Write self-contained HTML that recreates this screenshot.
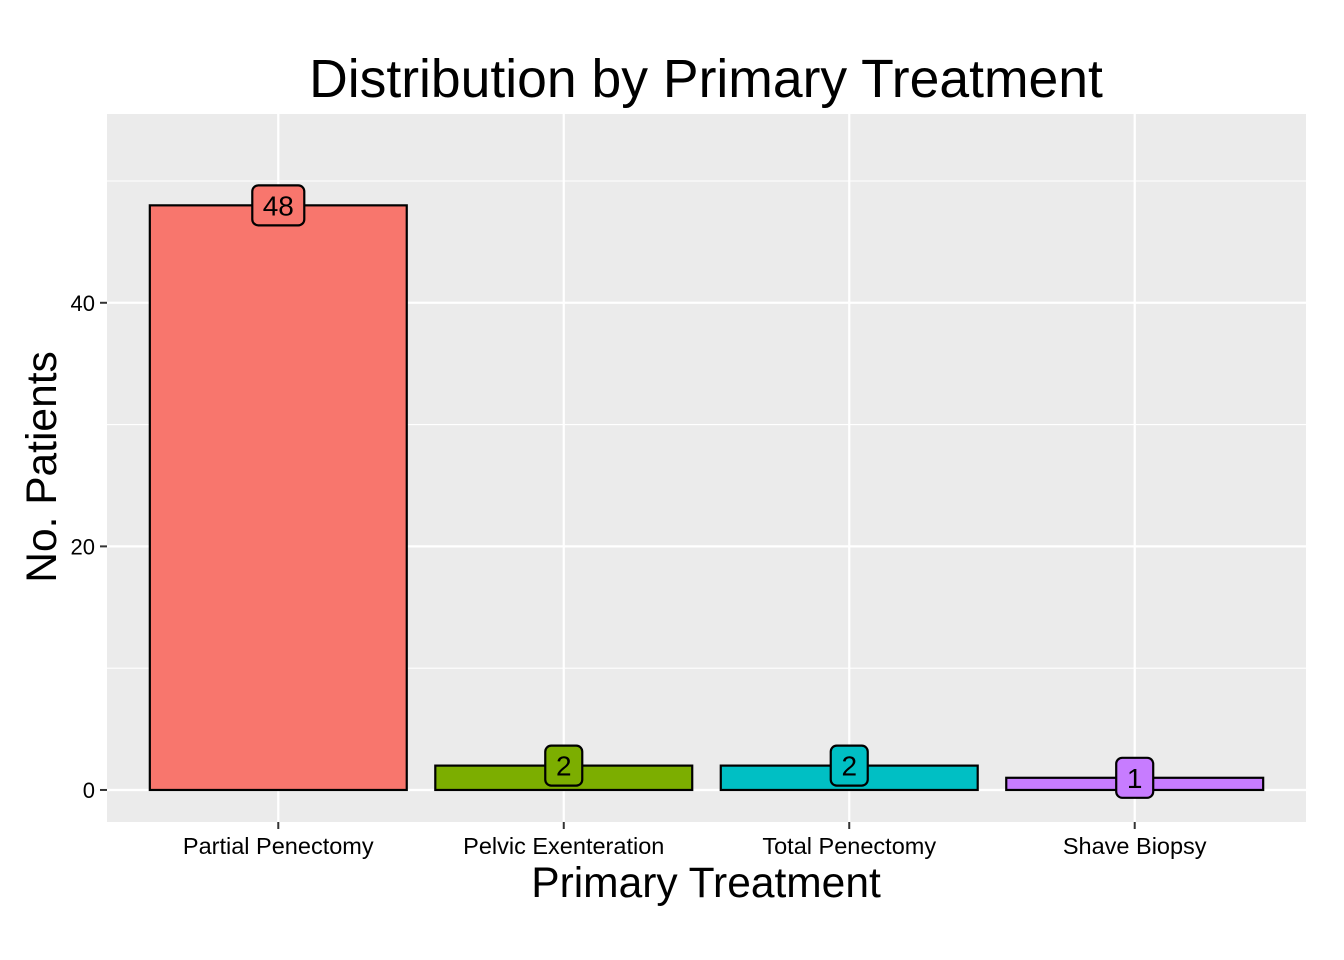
<!DOCTYPE html>
<html><head><meta charset="utf-8"><style>
html,body{margin:0;padding:0;background:#fff}
svg{display:block;font-family:"Liberation Sans",Arial,sans-serif}
</style></head><body>
<svg id="chart" width="1344" height="960" xmlns="http://www.w3.org/2000/svg">
<text x="706" y="97" text-anchor="middle" font-size="53.5" fill="#000">Distribution by Primary Treatment</text>
<rect x="107" y="114" width="1199" height="708" fill="#ebebeb"/>
<g id="grid"></g><g id="bars"></g><g id="axes"></g>
<text x="706" y="897" text-anchor="middle" font-size="42.5" fill="#000">Primary Treatment</text>
<text transform="translate(56,467) rotate(-90)" text-anchor="middle" font-size="42.5" fill="#000">No. Patients</text>
</svg>
<script>
const categories = ["Partial Penectomy","Pelvic Exenteration","Total Penectomy","Shave Biopsy"];
const values = [48, 2, 2, 1];
const colors = ["#f8766d","#7cae00","#00bfc4","#c77cff"];
const yTicks = [0, 20, 40];
const yMinor = [10, 30, 50];
const NS="http://www.w3.org/2000/svg";
const px0=107,px1=1306,py0=822,py1=114;
const yMin=-2.63,yMax=55.5;
const y=v=>py0-(v-yMin)/(yMax-yMin)*(py0-py1);
const x=i=>px0+(i+1-0.4)/4.2*(px1-px0);
const bw=0.9/4.2*(px1-px0);
function mk(tag,attrs,parent){const e=document.createElementNS(NS,tag);for(const k in attrs)e.setAttribute(k,attrs[k]);parent.appendChild(e);return e;}
const grid=document.getElementById('grid'),bars=document.getElementById('bars'),axes=document.getElementById('axes');
yMinor.forEach(v=>{const l=mk('line',{x1:px0,x2:px1,y1:y(v),y2:y(v),stroke:'#fff','stroke-width':1.1},grid);

});
yTicks.forEach(v=>{const l=mk('line',{x1:px0,x2:px1,y1:y(v),y2:y(v),stroke:'#fff','stroke-width':2.2},grid);


const t=mk('line',{x1:px0-7,x2:px0,y1:y(v),y2:y(v),stroke:'#333','stroke-width':2},axes);


const tx=mk('text',{x:px0-12,y:y(v)+8,'text-anchor':'end','font-size':22,fill:'#000'},axes);tx.textContent=v;

});
categories.forEach((c,i)=>{
const l=mk('line',{x1:x(i),x2:x(i),y1:py1,y2:py0,stroke:'#fff','stroke-width':2.2},grid);


const b=mk('rect',{x:x(i)-bw/2,y:y(values[i]),width:bw,height:y(0)-y(values[i]),fill:colors[i],stroke:'#000','stroke-width':2.2},bars);


const s=String(values[i]);const w=s.length*15+22;
const lb=mk('rect',{x:x(i)-w/2,y:y(values[i])-20,width:w,height:40,rx:6,fill:colors[i],stroke:'#000','stroke-width':2.2},bars);


const lt=mk('text',{x:x(i),y:y(values[i])+10,'text-anchor':'middle','font-size':28,fill:'#000'},bars);lt.textContent=s;


const t=mk('line',{x1:x(i),x2:x(i),y1:py0,y2:py0+7,stroke:'#333','stroke-width':2},axes);


const tx=mk('text',{x:x(i),y:py0+32,'text-anchor':'middle','font-size':23.5,fill:'#000'},axes);tx.textContent=c;


});
</script>
</body></html>
